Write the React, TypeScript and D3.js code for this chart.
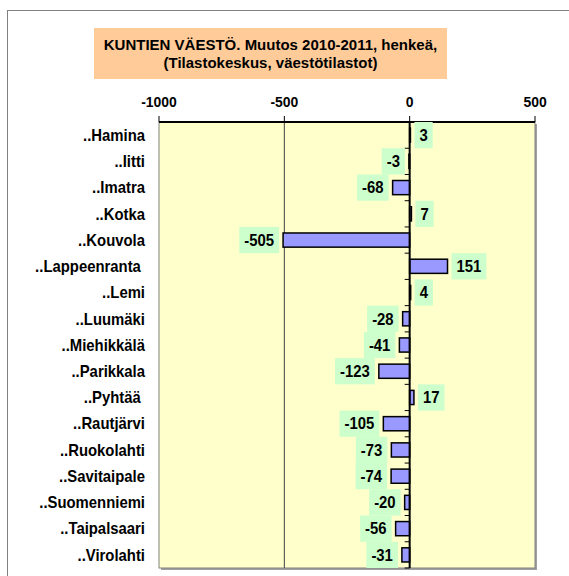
import React from "react";
import * as d3 from "d3";

const categories = [
  "..Hamina",
  "..Iitti",
  "..Imatra",
  "..Kotka",
  "..Kouvola",
  "..Lappeenranta ",
  "..Lemi",
  "..Luumäki",
  "..Miehikkälä",
  "..Parikkala",
  "..Pyhtää ",
  "..Rautjärvi",
  "..Ruokolahti",
  "..Savitaipale",
  "..Suomenniemi",
  "..Taipalsaari",
  "..Virolahti",
];
const values = [3, -3, -68, 7, -505, 151, 4, -28, -41, -123, 17, -105, -73, -74, -20, -56, -31];
const tickValues = [-1000, -500, 0, 500];
const titleLines = ["KUNTIEN VÄESTÖ. Muutos 2010-2011, henkeä,", "(Tilastokeskus, väestötilastot)"];

const FONT = "'Liberation Sans', Arial, sans-serif";
const SX = 0.93;

function measure(text: string, size: number) {
  const c = document.createElement("canvas").getContext("2d")!;
  c.font = `bold ${size}px 'Liberation Sans', Arial, sans-serif`;
  return c.measureText(text).width;
}

export default function App() {
  const W = 569;
  const H = 576;
  const left = 159, right = 535, top = 122, bottom = 568;
  const x = d3.scaleLinear().domain([-1000, 500]).range([left, right]);
  const y = d3.scaleBand<number>().domain(d3.range(categories.length)).range([top, bottom]).paddingInner(0.46).paddingOuter(0.23);
  const step = y.step();
  const x0 = x(0);
  const labelSize = 16;

  return (
    <svg width={W} height={H} style={{ position: "absolute", left: 0, top: 0, fontFamily: FONT }}>
      <rect x={0} y={0} width={W} height={H} fill="#fff" />
      {/* outer chart border */}
      <rect x={7.5} y={10.5} width={W + 10} height={H + 10} fill="none" stroke="#808080" strokeWidth={1} />
      {/* title */}
      <rect x={94} y={28} width={353} height={51} fill="#ffcc99" />
      {titleLines.map((t, i) => (
        <text key={i} x={270.5} y={50 + i * 18} textAnchor="middle" fontWeight="bold" fontSize={15} fill="#000">
          {t}
        </text>
      ))}
      {/* plot shadow */}
      <rect x={left + 2} y={top + 2} width={right - left} height={bottom - top} fill="#a0a0a0" />
      {/* plot area */}
      <rect x={left} y={top} width={right - left} height={bottom - top} fill="#ffffcc" stroke="#808080" strokeWidth={1} />
      {/* gridline */}
      {tickValues
        .filter((v) => v !== 0 && v !== -1000 && v !== 500)
        .map((v) => (
          <line key={v} x1={x(v)} x2={x(v)} y1={top} y2={bottom} stroke="#404040" strokeWidth={1} />
        ))}
      {/* top axis */}
      <line x1={left} x2={right} y1={top} y2={top} stroke="#000" strokeWidth={2} />
      {tickValues.map((v) => (
        <g key={v}>
          <line x1={x(v)} x2={x(v)} y1={top - 6} y2={top} stroke="#000" strokeWidth={1} />
          <text
            transform={`translate(${x(v)},107) scale(${SX},1)`}
            textAnchor="middle"
            fontWeight="bold"
            fontSize={15}
          >
            {v}
          </text>
        </g>
      ))}
      {/* bars */}
      {values.map((v, i) => (
        <rect
          key={i}
          x={Math.min(x(v), x0)}
          y={y(i)!}
          width={Math.abs(x(v) - x0)}
          height={y.bandwidth()}
          fill="#9999ff"
          stroke="#000"
          strokeWidth={1.5}
        />
      ))}
      {/* zero axis */}
      <line x1={x0} x2={x0} y1={top} y2={bottom} stroke="#000" strokeWidth={2} />
      {d3.range(categories.length + 1).map((i) => (
        <line key={i} x1={x0 - 5} x2={x0} y1={top + i * step} y2={top + i * step} stroke="#000" strokeWidth={1} />
      ))}
      {/* category labels */}
      {categories.map((c, i) => (
        <text
          key={i}
          transform={`translate(145,${y(i)! + y.bandwidth() / 2}) scale(${SX},1)`}
          dy="0.36em"
          textAnchor="end"
          fontWeight="bold"
          fontSize={labelSize}
          style={{ whiteSpace: "pre" }}
        >
          {c}
        </text>
      ))}
      {/* value labels */}
      {values.map((v, i) => {
        const t = String(v);
        const tw = measure(t, labelSize) * SX;
        const bw = tw + 10;
        const cy = y(i)! + y.bandwidth() / 2;
        const bx = v >= 0 ? x(v) + 4 : x(v) - 4 - bw;
        return (
          <g key={i}>
            <rect x={bx} y={cy - step / 2} width={bw} height={step} fill="#ccffcc" />
            <text
              transform={`translate(${bx + 5},${cy}) scale(${SX},1)`}
              dy="0.36em"
              fontWeight="bold"
              fontSize={labelSize}
            >
              {t}
            </text>
          </g>
        );
      })}
    </svg>
  );
}
